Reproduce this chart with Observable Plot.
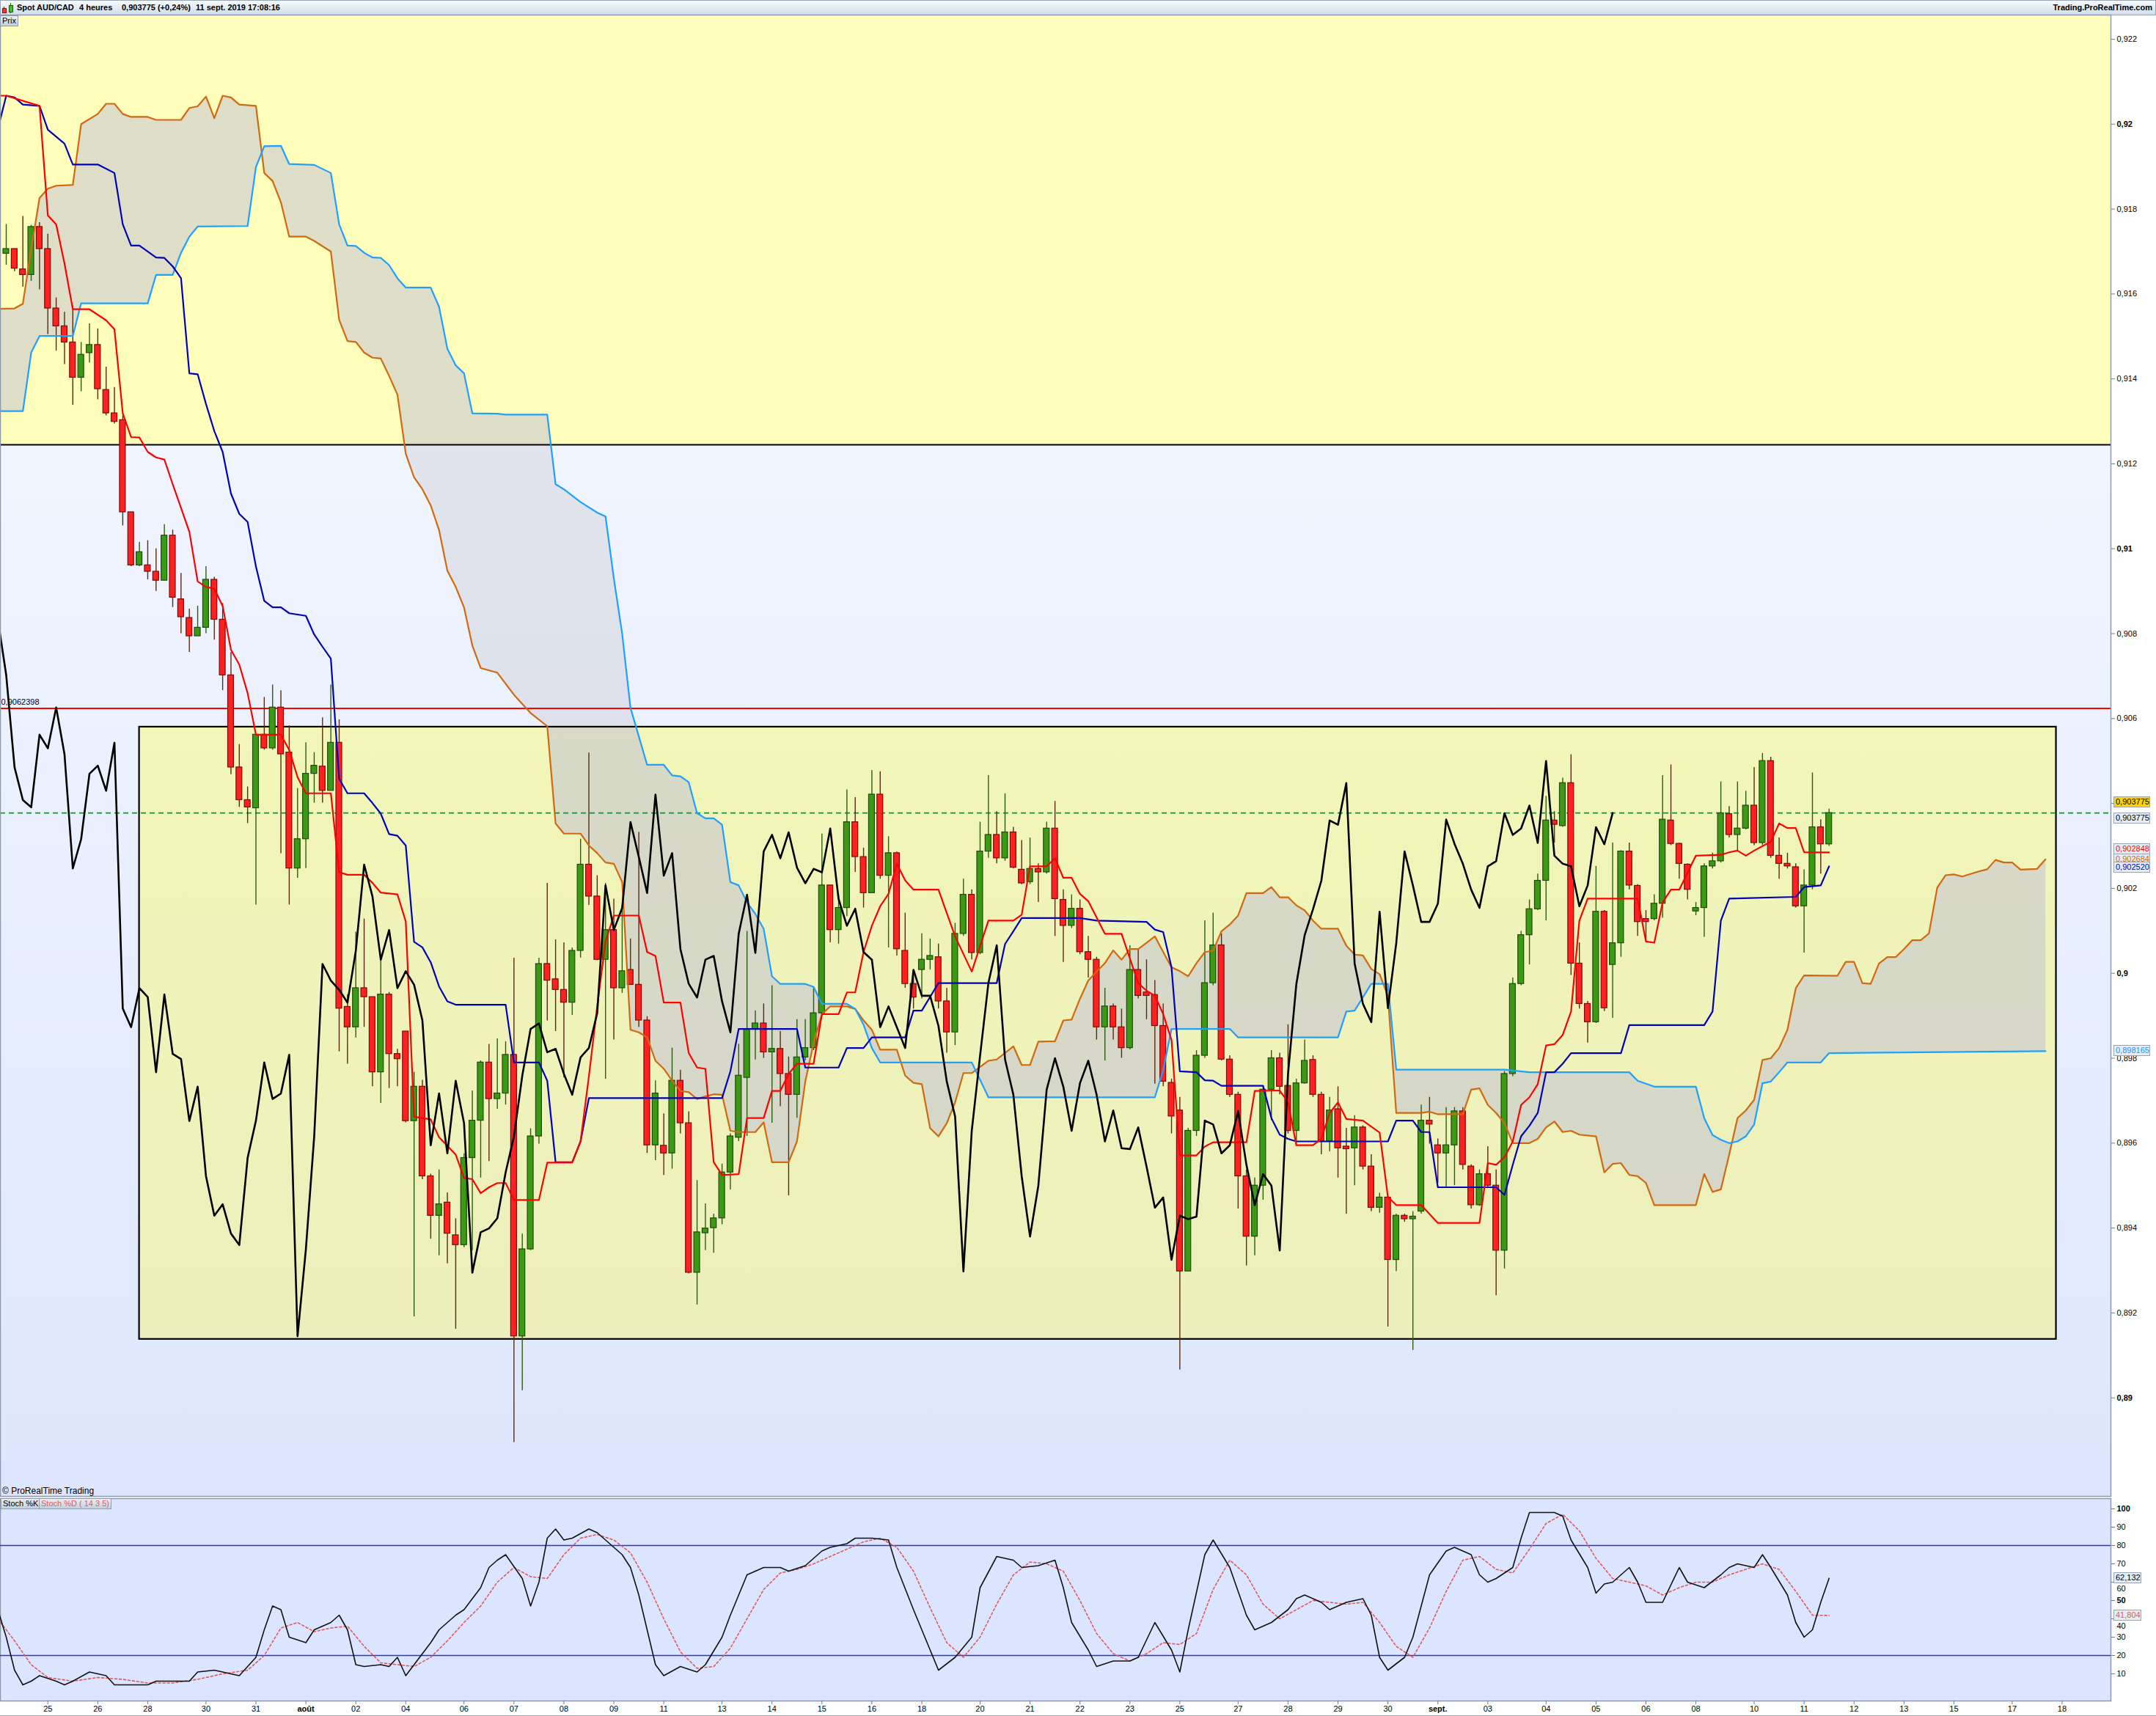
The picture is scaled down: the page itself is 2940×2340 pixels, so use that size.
<!DOCTYPE html>
<html><head><meta charset="utf-8">
<script src="https://cdn.jsdelivr.net/npm/d3@7"></script>
<script src="https://cdn.jsdelivr.net/npm/@observablehq/plot@0.6"></script>
<style>
html,body{margin:0;padding:0;background:#fff;}
#page{position:relative;width:2940px;height:2340px;overflow:hidden;background:#fff;font-family:"Liberation Sans",Arial,sans-serif;color:#000;}
.abs{position:absolute;}
#hdr{left:0;top:0;width:2938px;height:19px;border:1px solid #97a5b4;background:linear-gradient(#f8fbfe,#d0dce9);}
.ht{position:absolute;top:0;line-height:20px;font-size:11px;font-weight:bold;white-space:pre;color:#000;}
.tag{position:absolute;border:1px solid #8f9eae;background:linear-gradient(#e9eff5,#c3d0dd);font-size:11px;line-height:13px;padding:0 2px;white-space:pre;}
.vbox{position:absolute;left:2882px;width:46px;height:13px;border:1px solid #98a4b0;background:#e6edf7;font-size:11px;line-height:13px;padding-left:2px;white-space:pre;}
</style></head>
<body>
<svg width="0" height="0" style="position:absolute"><defs>
<linearGradient id="bgGrad" x1="0" y1="0" x2="0" y2="1"><stop offset="0" stop-color="#f1f5ff"/><stop offset="1" stop-color="#dde6fe"/></linearGradient>
<linearGradient id="boxGrad" x1="0" y1="0" x2="0" y2="1"><stop offset="0" stop-color="#f3f6b8"/><stop offset="1" stop-color="#ecefbb"/></linearGradient>
<linearGradient id="cloudGrad" gradientUnits="userSpaceOnUse" x1="0" y1="0" x2="0" y2="2020"></linearGradient>
</defs></svg>
<div id="page">
  <div id="hdr" class="abs"></div>
  <div class="abs" style="left:5px;top:9px;width:1px;height:9px;background:#7a1010"></div>
  <div class="abs" style="left:3px;top:11px;width:4px;height:5px;background:#ff3030;border:1px solid #8a1010"></div>
  <div class="abs" style="left:14px;top:4px;width:1px;height:14px;background:#1f5a08"></div>
  <div class="abs" style="left:12px;top:7px;width:4px;height:8px;background:#44c020;border:1px solid #1f5a08"></div>
  <div class="ht" style="left:23px">Spot AUD/CAD</div>
  <div class="ht" style="left:108px">4 heures</div>
  <div class="ht" style="left:166px">0,903775 (+0,24%)</div>
  <div class="ht" style="left:267px">11 sept. 2019 17:08:16</div>
  <div class="ht" style="right:5px">Trading.ProRealTime.com</div>
  <div id="mainWrap" class="abs" style="left:0;top:20px"></div>
  <div id="stochWrap" class="abs" style="left:0;top:2043px"></div>
  <div class="abs" style="left:0;top:2040px;width:2878px;height:1px;background:#8c9aaa"></div>
  <div class="tag" style="left:0;top:21px">Prix</div>
  <div class="abs" style="left:3px;top:2026px;font-size:12px;line-height:14px">© ProRealTime Trading</div>
  <div class="tag" style="left:1px;top:2043px">Stoch %K</div>
  <div class="tag" style="left:53px;top:2043px;color:#e05a5a">Stoch %D ( 14 3 5)</div>
  <div class="abs" style="left:0;top:2339px;width:2940px;height:1px;background:#9aa6b2"></div>
</div>
<script>
// ---------- DATA ----------
const open = [
.91695,.91706,.91658,.91645,.91758,.91706,.91566,.91524,.91486,.91403,
.91461,.91480,.91374,.91319,.91303,.91086,.90961,.90961,.90946,.90925,
.91031,.90881,.90837,.90794,.90814,.90927,.90833,.90702,.90485,.90408,
.90389,.90562,.90530,.90626,.90520,.90247,.90316,.90470,.90487,.90430,
.90543,.89921,.89873,.89965,.89944,.89767,.89950,.89810,.89863,.89652,
.89733,.89522,.89429,.89460,.89383,.89360,.89565,.89653,.89790,.89704,
.89717,.89808,.89145,.89350,.89616,.90022,.89986,.89961,.89931,.90053,
.90256,.90181,.90032,.90102,.89965,.90008,.89973,.89889,.89595,.89594,
.89576,.89747,.89647,.89295,.89388,.89400,.89423,.89531,.89613,.89754,
.89869,.89882,.89814,.89822,.89763,.89714,.89802,.89824,.89906,.90207,
.90102,.90154,.90356,.90274,.90189,.90421,.90230,.90283,.90053,.89975,
.90008,.90032,.90038,.89934,.89861,.90093,.90185,.90048,.90287,.90326,
.90271,.90332,.90244,.90215,.90246,.90238,.90341,.90173,.90112,.90152,
.90050,.90032,.89873,.89922,.89873,.89824,.90008,.89955,.89949,.89876,
.89742,.89677,.89298,.89629,.89806,.89977,.90066,.89797,.89714,.89522,
.89380,.89500,.89726,.89800,.89735,.89629,.89741,.89796,.89714,.89604,
.89680,.89592,.89588,.89637,.89545,.89448,.89472,.89325,.89429,.89421,
.89439,.89653,.89595,.89576,.89595,.89675,.89545,.89454,.89527,.89500,
.89347,.89763,.89975,.90090,.90151,.90218,.90360,.90347,.90448,.90023,
.89928,.89885,.90145,.90020,.90071,.90287,.90206,.90128,.90128,.90164,
.90360,.90305,.90256,.90146,.90154,.90252,.90264,.90375,.90326,.90341,
.90395,.90307,.90500,.90277,.90258,.90250,.90158,.90207,.90344,.90304];
const high = [
.91764,.91706,.91783,.91762,.91768,.91741,.91591,.91557,.91572,.91486,
.91530,.91518,.91428,.91380,.91313,.91086,.91015,.91019,.91000,.91057,
.91044,.90942,.90858,.90865,.90958,.90933,.90871,.90756,.90539,.90439,
.90562,.90650,.90679,.90666,.90583,.90435,.90543,.90520,.90602,.90679,
.90597,.89950,.90097,.90128,.89944,.90036,.89955,.89821,.89863,.89767,
.89748,.89527,.89537,.89483,.89422,.89575,.89723,.89794,.89833,.89846,
.89839,.90036,.89386,.89634,.90036,.90212,.90079,.90072,.90060,.90316,
.90519,.90230,.90212,.90175,.90160,.90081,.90332,.89898,.89747,.89669,
.89824,.89772,.89674,.89512,.89457,.89433,.89551,.89622,.89833,.90099,
.89912,.89928,.89971,.89863,.89803,.89891,.89891,.89968,.90328,.90207,
.90185,.90432,.90414,.90295,.90478,.90475,.90322,.90286,.90142,.90008,
.90093,.90081,.90069,.89965,.90118,.90222,.90197,.90356,.90466,.90381,
.90423,.90344,.90313,.90319,.90258,.90356,.90405,.90197,.90185,.90173,
.90087,.90038,.89965,.89928,.89916,.90065,.90057,.90032,.89983,.89928,
.89751,.89708,.89635,.89818,.90124,.90142,.90093,.89806,.89720,.89537,
.89518,.89733,.89818,.89812,.89879,.89751,.89843,.89806,.89720,.89708,
.89733,.89635,.89665,.89641,.89573,.89482,.89476,.89433,.89433,.89439,
.89690,.89708,.89610,.89684,.89684,.89684,.89549,.89537,.89592,.89537,
.89769,.89989,.90099,.90173,.90234,.90417,.90381,.90460,.90515,.90072,
.89934,.90252,.90148,.90307,.90289,.90307,.90209,.90148,.90185,.90466,
.90491,.90307,.90258,.90167,.90258,.90283,.90451,.90393,.90451,.90429,
.90485,.90518,.90509,.90319,.90283,.90258,.90244,.90472,.90362,.90387];
const low = [
.91668,.91653,.91616,.91630,.91610,.91505,.91466,.91434,.91338,.91370,
.91438,.91351,.91313,.91294,.91054,.90958,.90958,.90927,.90900,.90925,
.90862,.90800,.90756,.90794,.90800,.90785,.90666,.90468,.90391,.90353,
.90161,.90526,.90526,.90282,.90161,.90224,.90247,.90401,.90401,.90430,
.89815,.89786,.89848,.89873,.89733,.89694,.89729,.89733,.89648,.89191,
.89514,.89374,.89335,.89316,.89162,.89354,.89347,.89518,.89557,.89680,
.89690,.88895,.89017,.89347,.89598,.89888,.89863,.89754,.89901,.90036,
.90160,.90030,.89751,.89843,.89953,.89973,.89873,.89576,.89559,.89524,
.89539,.89622,.89292,.89219,.89347,.89341,.89408,.89490,.89604,.89616,
.89796,.89800,.89647,.89686,.89476,.89659,.89794,.89818,.89904,.90072,
.90069,.90134,.90238,.90154,.90189,.90222,.90060,.90041,.89965,.89916,
.89940,.90008,.89916,.89812,.89830,.90087,.90032,.90044,.90271,.90258,
.90264,.90246,.90209,.90209,.90167,.90234,.90087,.90026,.90106,.90044,
.89989,.89843,.89794,.89843,.89800,.89820,.89940,.89891,.89739,.89733,
.89622,.89066,.89298,.89616,.89800,.89971,.89794,.89708,.89445,.89311,
.89335,.89466,.89653,.89714,.89622,.89598,.89739,.89708,.89573,.89580,
.89518,.89433,.89500,.89537,.89439,.89435,.89167,.89298,.89414,.89112,
.89433,.89598,.89506,.89494,.89500,.89537,.89445,.89451,.89494,.89241,
.89304,.89757,.89971,.90020,.90148,.90124,.90307,.90344,.89995,.89916,
.89836,.89882,.89910,.89894,.90038,.90197,.90087,.90075,.90124,.90130,
.90301,.90222,.90173,.90136,.90085,.90246,.90260,.90319,.90289,.90338,
.90301,.90301,.90271,.90222,.90246,.90154,.90048,.90197,.90234,.90299];
const close = [
.91706,.91660,.91645,.91758,.91706,.91566,.91524,.91486,.91403,.91457,
.91480,.91376,.91319,.91299,.91086,.90961,.90992,.90946,.90925,.91031,
.90885,.90839,.90794,.90814,.90927,.90833,.90702,.90485,.90408,.90391,
.90562,.90530,.90626,.90516,.90247,.90316,.90470,.90489,.90430,.90543,
.89917,.89873,.89965,.89944,.89767,.89950,.89810,.89798,.89652,.89733,
.89522,.89429,.89456,.89387,.89360,.89565,.89653,.89790,.89704,.89717,
.89808,.89145,.89350,.89616,.90022,.89983,.89961,.89931,.90053,.90256,
.90181,.90032,.90102,.89965,.90005,.89973,.89889,.89595,.89717,.89576,
.89747,.89647,.89295,.89390,.89399,.89423,.89531,.89616,.89759,.89869,
.89882,.89814,.89822,.89763,.89714,.89802,.89824,.89906,.90207,.90102,
.90154,.90356,.90274,.90189,.90421,.90230,.90283,.90057,.89975,.89943,
.90032,.90041,.89934,.89861,.90093,.90185,.90048,.90287,.90326,.90271,
.90332,.90249,.90212,.90246,.90238,.90341,.90175,.90112,.90152,.90050,
.90032,.89873,.89922,.89873,.89824,.90008,.89947,.89947,.89876,.89745,
.89663,.89298,.89629,.89806,.89977,.90066,.89797,.89714,.89522,.89380,
.89500,.89726,.89800,.89733,.89629,.89741,.89794,.89714,.89604,.89677,
.89588,.89586,.89637,.89545,.89448,.89472,.89325,.89429,.89421,.89427,
.89653,.89644,.89576,.89595,.89675,.89549,.89454,.89527,.89500,.89347,
.89763,.89975,.90090,.90151,.90218,.90360,.90350,.90448,.90023,.89928,
.89885,.90145,.89918,.90071,.90287,.90207,.90121,.90121,.90164,.90362,
.90305,.90258,.90197,.90154,.90252,.90264,.90377,.90326,.90341,.90395,
.90307,.90500,.90277,.90258,.90252,.90158,.90207,.90344,.90304,.903775];

// Ichimoku lines: [bar index, price] vertices
const tenkan = [[-1,.92067],[0,.92067],[4,.92043],[5,.91785],[6,.91764],[7,.91672],[8,.91564],[10,.91564],[12,.91538],[13,.91517],[14,.91319],[15,.91263],[16,.91262],[17,.91228],[18,.91215],[19,.91210],[20,.91152],[21,.91096],[22,.91040],[23,.90923],[24,.90910],[25,.90906],[26,.90865],[27,.90762],[28,.90727],[29,.90660],[30,.90562],[33,.90562],[34,.90526],[35,.90462],[36,.90424],[39,.90424],[40,.90238],[41,.90232],[43,.90232],[44,.90213],[45,.90190],[47,.90186],[48,.90122],[49,.89662],[51,.89656],[52,.89614],[54,.89573],[55,.89518],[56,.89515],[57,.89482],[58,.89496],[59,.89506],[60,.89506],[61,.89466],[64,.89466],[65,.89554],[68,.89554],[69,.89604],[70,.89757],[71,.89922],[72,.90075],[73,.90136],[76,.90136],[77,.90050],[78,.90041],[79,.89931],[81,.89931],[82,.89812],[83,.89778],[84,.89775],[85,.89555],[86,.89525],[88,.89527],[89,.89659],[91,.89659],[92,.89723],[93,.89723],[94,.89763],[95,.89787],[97,.89787],[98,.89904],[100,.89904],[101,.89955],[102,.89955],[103,.90050],[104,.90112],[105,.90158],[106,.90187],[107,.90258],[108,.90219],[109,.90197],[112,.90197],[113,.90142],[114,.90087],[116,.90004],[118,.90124],[121,.90124],[122,.90138],[123,.90252],[125,.90252],[126,.90271],[127,.90225],[128,.90225],[129,.90187],[130,.90170],[132,.90093],[134,.90093],[136,.89977],[137,.89959],[138,.89947],[139,.89904],[140,.89843],[141,.89571],[143,.89571],[144,.89592],[145,.89602],[149,.89602],[150,.89723],[153,.89724],[154,.89696],[155,.89595],[157,.89595],[158,.89610],[159,.89671],[160,.89696],[161,.89657],[163,.89653],[165,.89625],[166,.89473],[167,.89454],[170,.89454],[172,.89412],[177,.89412],[178,.89553],[179,.89549],[180,.89567],[181,.89604],[182,.89690],[183,.89708],[184,.89739],[185,.89830],[186,.89833],[187,.89855],[188,.89910],[189,.90124],[190,.90176],[196,.90176],[197,.90075],[198,.90072],[199,.90167],[200,.90197],[201,.90197],[203,.90277],[206,.90279],[207,.90285],[208,.90289],[209,.90277],[210,.90289],[212,.90310],[213,.90353],[214,.90342],[215,.90342],[216,.90285],[219,.902848]];
const kijun = [[-1,.91989],[0,.92067],[1,.92063],[2,.92046],[4,.92043],[5,.91987],[7,.91954],[8,.91905],[11,.91905],[13,.91885],[14,.91764],[15,.91714],[16,.91714],[18,.91686],[19,.91685],[20,.91665],[21,.91637],[22,.91413],[23,.91411],[24,.91341],[25,.91277],[26,.91228],[27,.91130],[28,.91082],[29,.91063],[30,.90958],[31,.90877],[32,.90862],[33,.90862],[34,.90848],[36,.90842],[37,.90798],[38,.90769],[39,.90741],[40,.90458],[41,.90424],[43,.90424],[44,.90401],[45,.90376],[46,.90328],[47,.90324],[48,.90301],[49,.90074],[50,.90061],[51,.90026],[52,.89969],[53,.89934],[54,.89926],[60,.89926],[61,.89790],[64,.89790],[65,.89747],[66,.89555],[68,.89555],[69,.89604],[70,.89706],[86,.89706],[87,.89769],[88,.89869],[95,.89869],[96,.89778],[100,.89778],[101,.89824],[103,.89824],[104,.89849],[108,.89849],[109,.89912],[110,.89912],[112,.89977],[119,.89977],[120,.90069],[121,.90099],[122,.90130],[129,.90130],[131,.90124],[137,.90121],[138,.90103],[139,.90097],[140,.90014],[141,.89769],[143,.89767],[144,.89748],[145,.89747],[146,.89735],[151,.89735],[152,.89659],[153,.89620],[154,.89610],[155,.89604],[166,.89604],[167,.89653],[169,.89653],[170,.89626],[171,.89626],[172,.89496],[179,.89496],[180,.89478],[181,.89549],[182,.89616],[183,.89641],[184,.89671],[185,.89767],[186,.89767],[187,.89787],[188,.89812],[194,.89812],[195,.89878],[204,.89878],[205,.89910],[206,.90124],[207,.90176],[215,.90180],[216,.90203],[218,.90207],[219,.902520]];
const senkouA = [[-1,.91565],[1,.91566],[2,.91577],[3,.91706],[4,.91826],[5,.91848],[6,.91855],[8,.91857],[9,.92000],[11,.92024],[12,.92048],[13,.92048],[14,.92024],[15,.92017],[17,.92017],[18,.92010],[21,.92010],[22,.92038],[23,.92042],[24,.92065],[25,.92014],[26,.92067],[27,.92063],[28,.92046],[30,.92043],[31,.91885],[32,.91866],[33,.91816],[34,.91735],[36,.91735],[37,.91725],[39,.91700],[40,.91539],[41,.91489],[42,.91487],[43,.91462],[44,.91450],[45,.91448],[46,.91407],[47,.91363],[48,.91224],[49,.91168],[50,.91140],[51,.91102],[52,.91044],[53,.90948],[54,.90910],[55,.90862],[56,.90772],[57,.90719],[59,.90708],[61,.90656],[63,.90613],[65,.90582],[66,.90353],[67,.90329],[69,.90329],[70,.90301],[71,.90283],[72,.90261],[73,.90258],[74,.90215],[75,.89867],[76,.89861],[77,.89849],[78,.89794],[79,.89775],[80,.89747],[81,.89723],[82,.89720],[83,.89704],[84,.89710],[85,.89715],[86,.89714],[87,.89629],[88,.89626],[90,.89626],[91,.89649],[92,.89555],[94,.89555],[95,.89604],[96,.89745],[97,.89836],[98,.89904],[99,.89922],[101,.89922],[102,.89916],[103,.89889],[104,.89867],[105,.89820],[107,.89820],[108,.89759],[109,.89742],[110,.89739],[111,.89635],[112,.89616],[113,.89647],[114,.89696],[115,.89765],[116,.89765],[118,.89794],[119,.89797],[121,.89828],[122,.89784],[123,.89784],[124,.89839],[126,.89840],[127,.89889],[128,.89891],[129,.89940],[130,.89983],[132,.90024],[133,.90054],[134,.90032],[135,.90057],[136,.90057],[137,.90072],[138,.90087],[139,.90050],[140,.90014],[141,.90005],[142,.89993],[143,.90024],[144,.90050],[145,.90053],[146,.90099],[147,.90115],[148,.90136],[149,.90189],[151,.90189],[152,.90203],[153,.90179],[154,.90179],[155,.90160],[156,.90148],[157,.90124],[158,.90105],[160,.90105],[161,.90065],[162,.90044],[163,.90042],[164,.90010],[165,.89998],[166,.89946],[167,.89671],[170,.89671],[171,.89674],[172,.89668],[175,.89668],[176,.89726],[177,.89729],[178,.89690],[179,.89671],[180,.89647],[181,.89600],[183,.89600],[184,.89610],[185,.89637],[186,.89651],[187,.89626],[188,.89629],[189,.89620],[191,.89616],[192,.89531],[193,.89551],[194,.89553],[195,.89525],[196,.89522],[197,.89506],[198,.89454],[203,.89454],[204,.89527],[205,.89485],[206,.89491],[207,.89573],[208,.89659],[209,.89677],[210,.89702],[211,.89796],[212,.89800],[213,.89824],[214,.89867],[215,.89965],[216,.89995],[220,.89994],[221,.90027],[222,.90027],[223,.89977],[224,.89975],[225,.90023],[226,.90038],[227,.90038],[228,.90057],[229,.90078],[230,.90078],[231,.90094],[232,.90202],[233,.90231],[234,.90233],[235,.90228],[236,.90234],[237,.90240],[238,.90245],[239,.90267],[240,.90261],[241,.90261],[242,.90244],[243,.90245],[244,.90246],[245,.902684]];
const senkouB = [[-1,.91324],[2,.91324],[3,.91462],[4,.91501],[8,.91501],[9,.91578],[17,.91578],[18,.91645],[20,.91645],[21,.91697],[22,.91735],[23,.91759],[29,.91760],[30,.91899],[31,.91948],[33,.91949],[34,.91906],[37,.91904],[39,.91885],[40,.91764],[41,.91714],[42,.91713],[43,.91697],[44,.91686],[45,.91685],[46,.91668],[47,.91637],[48,.91615],[51,.91615],[52,.91570],[53,.91471],[54,.91432],[55,.91413],[56,.91319],[59,.91318],[60,.91316],[65,.91316],[66,.91152],[67,.91140],[69,.91110],[71,.91085],[72,.91076],[73,.90930],[74,.90800],[75,.90625],[76,.90558],[77,.90491],[79,.90491],[80,.90466],[81,.90464],[82,.90450],[83,.90377],[84,.90365],[85,.90365],[86,.90350],[87,.90215],[88,.90207],[89,.90167],[90,.90140],[91,.90105],[92,.89993],[93,.89975],[96,.89975],[97,.89968],[98,.89928],[101,.89928],[102,.89916],[103,.89879],[104,.89824],[105,.89790],[116,.89790],[118,.89708],[138,.89708],[139,.89772],[140,.89869],[147,.89869],[148,.89849],[160,.89849],[161,.89910],[162,.89912],[164,.89975],[166,.89975],[167,.89773],[180,.89773],[183,.89767],[195,.89767],[196,.89747],[198,.89733],[203,.89733],[204,.89659],[205,.89619],[206,.89608],[207,.89600],[208,.89604],[209,.89616],[210,.89644],[211,.89741],[212,.89745],[213,.89767],[214,.89790],[218,.89790],[219,.89812],[245,.898165]];

// Stochastic %K and %D: [bar index, value]
const stochK = [[-1,45],[0,30],[1,12],[2,4],[3,6],[4,9],[6,6],[7,4],[8,6],[10,11],[12,9],[13,4],[17,4],[18,6],[22,6],[23,11],[25,12],[27,10],[28,9],[30,19],[31,34],[32,47],[33,45],[34,30],[36,27],[37,34],[39,38],[40,42],[41,34],[42,15],[43,14],[45,15],[46,14],[47,19],[48,9],[49,15],[51,27],[52,34],[54,42],[55,45],[57,57],[58,68],[59,72],[60,75],[62,62],[63,47],[64,60],[65,84],[66,89],[67,83],[68,84],[70,89],[71,87],[72,83],[74,75],[75,68],[76,53],[77,34],[78,15],[79,9],[81,14],[83,11],[84,15],[86,30],[87,42],[88,53],[89,64],[91,68],[93,68],[94,66],[96,69],[98,77],[99,79],[101,81],[102,84],[104,84],[106,83],[107,68],[109,45],[111,23],[112,12],[114,19],[116,30],[117,57],[119,74],[121,72],[122,68],[124,69],[126,72],[127,57],[128,38],[130,23],[131,14],[133,17],[135,17],[136,19],[138,38],[140,23],[141,11],[142,34],[144,75],[145,83],[147,68],[149,42],[150,34],[152,38],[154,45],[155,51],[156,53],[158,49],[159,45],[161,49],[163,51],[164,42],[165,19],[166,12],[168,19],[169,30],[171,64],[173,77],[174,79],[176,75],[177,64],[178,60],[179,62],[181,68],[182,84],[183,98],[186,98],[187,96],[188,83],[190,68],[191,54],[192,59],[193,60],[195,68],[196,60],[197,49],[199,49],[201,68],[202,60],[204,57],[206,64],[207,68],[208,70],[210,68],[211,75],[212,68],[214,53],[215,38],[216,30],[217,34],[218,49],[219,62.132]];
const stochD = [[-1,40],[1,28],[3,15],[5,8],[8,6],[11,8],[14,7],[17,5],[20,5],[23,7],[26,10],[29,12],[31,20],[33,35],[35,38],[37,33],[39,35],[41,36],[43,25],[45,16],[47,15],[49,14],[51,19],[53,28],[55,38],[57,47],[59,60],[61,68],[63,63],[65,62],[67,75],[69,84],[71,86],[73,83],[75,76],[77,60],[79,40],[81,22],[83,13],[85,14],[87,24],[89,40],[91,56],[93,65],[95,67],[97,70],[99,74],[101,78],[103,82],[105,84],[107,79],[109,66],[111,46],[113,27],[115,19],[117,30],[119,48],[121,64],[123,71],[125,70],[127,66],[129,50],[131,32],[133,21],[135,17],[137,21],[139,27],[141,26],[143,32],[145,56],[147,72],[149,64],[151,48],[153,40],[155,45],[157,50],[159,49],[161,48],[163,49],[165,38],[167,25],[169,19],[171,35],[173,55],[175,72],[177,74],[179,67],[181,65],[183,78],[185,92],[187,97],[189,88],[191,73],[193,62],[195,60],[197,58],[199,53],[201,57],[203,60],[205,60],[207,64],[209,67],[211,70],[213,67],[215,55],[217,42],[219,41.804]];

// Reference levels
const zoneLevel = 0.91245;
const redLevel = 0.9062398;
const lastPrice = 0.903775;
const rangeBoxBars = [16, 246.3];
const rangeBoxPrices = [0.89138, 0.9058];
const chikouShift = 26;

// Axes
const priceDomain = [0.88768, 0.92257];
const barDomain = [-0.705, 252.86];
const priceTicks = [0.892,0.894,0.896,0.898,0.902,0.906,0.908,0.912,0.914,0.916,0.918,0.922];
const priceTicksHidden = [0.904];
const priceTicksBold = [0.89,0.90,0.91,0.92];
const stochDomain = [-4.8, 105.6];
const stochBands = [20, 80];
const stochTicks = [10,20,30,70,80,90];
const stochTicksUnderBox = [40,60];
const stochTicksBold = [50,100];
const dayTickBars = [5,11,17,24,30,36,42,48,55,61,67,73,79,86,92,98,104,110,117,123,129,135,141,148,154,160,166,172,178,185,191,197,203,210,216,222,228,234,241,247];
const dayTickLabels = ["25","26","28","30","31","août","02","04","06","07","08","09","11","13","14","15","16","18","20","21","22","23","25","27","28","29","30","sept.","03","04","05","06","08","10","11","12","13","15","17","18"];
const monthLabels = ["août","sept."];

// ---------- BUILD ----------
const bars = open.map((o, i) => ({i, o, h: high[i], l: low[i], c: close[i], up: close[i] >= o}));
const chikou = close.map((c, i) => [i - chikouShift, c]).filter(d => d[0] >= -1);
const cloud = senkouA.concat(senkouB.slice().reverse());
const fmtPrice = v => String(+v.toFixed(3)).replace(".", ",");
const fx = d => d[0], fy = d => d[1];
const font = '"Liberation Sans", Arial, sans-serif';
const axisOpts = {anchor: "right", tickSize: 5, tickPadding: 3, stroke: "#6f7f8f", fill: "#000", fontSize: 11};

const main = Plot.plot({
  width: 2940, height: 2020,
  marginTop: 0, marginBottom: 0, marginLeft: 0, marginRight: 62,
  x: {domain: barDomain, axis: null},
  y: {domain: priceDomain, axis: null},
  color: {type: "identity"},
  style: {background: "transparent", fontFamily: font, overflow: "visible"},
  marks: [
    Plot.rect([0], {y1: zoneLevel, y2: priceDomain[1], fill: "#FFFFBB"}),
    Plot.rect([0], {y1: priceDomain[0], y2: zoneLevel, fill: "url(#bgGrad)"}),
    Plot.rect([0], {x1: rangeBoxBars[0], x2: rangeBoxBars[1], y1: rangeBoxPrices[0], y2: rangeBoxPrices[1], fill: "url(#boxGrad)"}),
    Plot.line(cloud, {x: fx, y: fy, fill: "url(#cloudGrad)", stroke: "none", clip: true}),
    Plot.rect([0], {x1: rangeBoxBars[0], x2: rangeBoxBars[1], y1: rangeBoxPrices[0], y2: rangeBoxPrices[1], fill: "none", stroke: "#000", strokeWidth: 2.2}),
    Plot.ruleY([zoneLevel], {stroke: "#000", strokeWidth: 2}),
    Plot.ruleY([redLevel], {stroke: "#ff0000", strokeWidth: 2}),
    Plot.ruleY([lastPrice], {stroke: "#1d8c36", strokeWidth: 1.6, strokeDasharray: "7,5"}),
    Plot.text([redLevel], {y: d => d, frameAnchor: "left", text: d => String(d).replace(".", ","), dx: 1, dy: -8, textAnchor: "start", fontSize: 11, fill: "#000"}),
    Plot.ruleX(bars, {x: "i", y1: "l", y2: "h", stroke: d => d.up ? "#2d5e10" : "#5a2a12", strokeWidth: 1.4}),
    Plot.rect(bars, {x1: d => d.i - 0.35, x2: d => d.i + 0.35, y1: "o", y2: "c",
      fill: d => d.up ? "#3a9a14" : "#ff2020", stroke: d => d.up ? "#1f4a08" : "#7a0a0a", strokeWidth: 1.2}),
    Plot.line(senkouA, {x: fx, y: fy, stroke: "#d0690f", strokeWidth: 2.2, clip: true}),
    Plot.line(senkouB, {x: fx, y: fy, stroke: "#1ea0ff", strokeWidth: 2.2, clip: true}),
    Plot.line(kijun, {x: fx, y: fy, stroke: "#0000b8", strokeWidth: 2.2, clip: true}),
    Plot.line(tenkan, {x: fx, y: fy, stroke: "#ff0000", strokeWidth: 2.2, clip: true}),
    Plot.line(chikou, {x: fx, y: fy, stroke: "#000", strokeWidth: 2.6, clip: true}),
    Plot.frame({stroke: "#8c9aaa", strokeWidth: 1.5}),
    Plot.axisY(priceTicks, {...axisOpts, tickFormat: fmtPrice}),
    Plot.axisY(priceTicksHidden, {...axisOpts, tickFormat: () => ""}),
    Plot.axisY(priceTicksBold, {...axisOpts, tickFormat: fmtPrice, fontWeight: "bold"})
  ]
});
document.getElementById("mainWrap").appendChild(main);

// cloud tint: stronger over the yellow areas, softer grey over the blue band
{
  const ys = main.scale("y");
  const H = 2020;
  const oz = ys.apply(zoneLevel) / H, ob = ys.apply(rangeBoxPrices[1]) / H;
  const warm = ["#c2c2d4", 0.55], cool = ["#c0c0c4", 0.32];
  const stops = [[0, warm], [oz, warm], [oz, cool], [ob, cool], [ob, warm], [1, warm]];
  const g = d3.select("#cloudGrad");
  for (const [o, [c, a]] of stops) g.append("stop").attr("offset", o).attr("stop-color", c).attr("stop-opacity", a);
}

const labelOf = new Map(dayTickBars.map((b, k) => [b, dayTickLabels[k]]));
const boldBars = dayTickBars.filter((b, k) => monthLabels.includes(dayTickLabels[k]));
const normalBars = dayTickBars.filter((b, k) => !monthLabels.includes(dayTickLabels[k]));

const stoch = Plot.plot({
  width: 2940, height: 297,
  marginTop: 0, marginBottom: 21, marginLeft: 0, marginRight: 62,
  x: {domain: barDomain, axis: null},
  y: {domain: stochDomain, axis: null},
  style: {background: "transparent", fontFamily: font, overflow: "visible"},
  marks: [
    Plot.frame({fill: "#dce5ff", stroke: "#8c9aaa", strokeWidth: 1.5}),
    Plot.ruleY(stochBands, {stroke: "#2a36c4", strokeWidth: 1.6}),
    Plot.line(stochD, {x: fx, y: fy, stroke: "#e05a5a", strokeWidth: 1.6, strokeDasharray: "3,3", clip: true}),
    Plot.line(stochK, {x: fx, y: fy, stroke: "#111", strokeWidth: 1.6, clip: true}),
    Plot.axisY(stochTicks, axisOpts),
    Plot.axisY(stochTicksUnderBox, {...axisOpts, tickFormat: () => ""}),
    Plot.text([stochTicksUnderBox[1]], {y: d => d, text: d => String(d), frameAnchor: "right", dx: 8, dy: 9, textAnchor: "start", fontSize: 11, fill: "#000"}),
    Plot.text([stochTicksUnderBox[0]], {y: d => d, text: d => String(d), frameAnchor: "right", dx: 8, dy: 10, textAnchor: "start", fontSize: 11, fill: "#000"}),
    Plot.axisY(stochTicksBold, {...axisOpts, fontWeight: "bold"}),
    Plot.axisX(normalBars, {anchor: "bottom", tickSize: 5, tickPadding: 2, tickFormat: b => labelOf.get(b), stroke: "#6f7f8f", fill: "#000", fontSize: 11}),
    Plot.axisX(boldBars, {anchor: "bottom", tickSize: 5, tickPadding: 2, tickFormat: b => labelOf.get(b), stroke: "#6f7f8f", fill: "#000", fontSize: 11, fontWeight: "bold"})
  ]
});
document.getElementById("stochWrap").appendChild(stoch);

// value boxes on the right scales
const page = document.getElementById("page");
const yMain = v => 20 + main.scale("y").apply(v);
const yStoch = v => 2043 + stoch.scale("y").apply(v);
function vbox(text, top, color, bg, w) {
  const d = document.createElement("div");
  d.className = "vbox";
  d.textContent = text;
  d.style.top = (top - 7.5) + "px";
  d.style.color = color;
  if (bg) d.style.background = bg;
  if (w) d.style.width = w + "px";
  page.appendChild(d);
}
const fmt6 = v => v.toFixed(6).replace(".", ",");
vbox(fmt6(lastPrice), yMain(lastPrice) - 15, "#000", "#ffd400");
vbox(fmt6(lastPrice), yMain(lastPrice) + 7, "#000");
vbox(fmt6(tenkan[tenkan.length - 1][1]), yMain(tenkan[tenkan.length - 1][1]) - 4, "#ff0000");
vbox(fmt6(senkouA[senkouA.length - 1][1]), yMain(senkouA[senkouA.length - 1][1]), "#cc6a10");
vbox(fmt6(kijun[kijun.length - 1][1]), yMain(kijun[kijun.length - 1][1]) + 2, "#0000cc");
vbox(fmt6(senkouB[senkouB.length - 1][1]), yMain(senkouB[senkouB.length - 1][1]), "#1e90ff");
const kLast = stochK[stochK.length - 1][1], dLast = stochD[stochD.length - 1][1];
vbox(kLast.toFixed(3).replace(".", ","), yStoch(kLast), "#000", null, 34);
vbox(dLast.toFixed(3).replace(".", ","), yStoch(dLast), "#e05a5a", null, 34);
</script>
</body></html>
